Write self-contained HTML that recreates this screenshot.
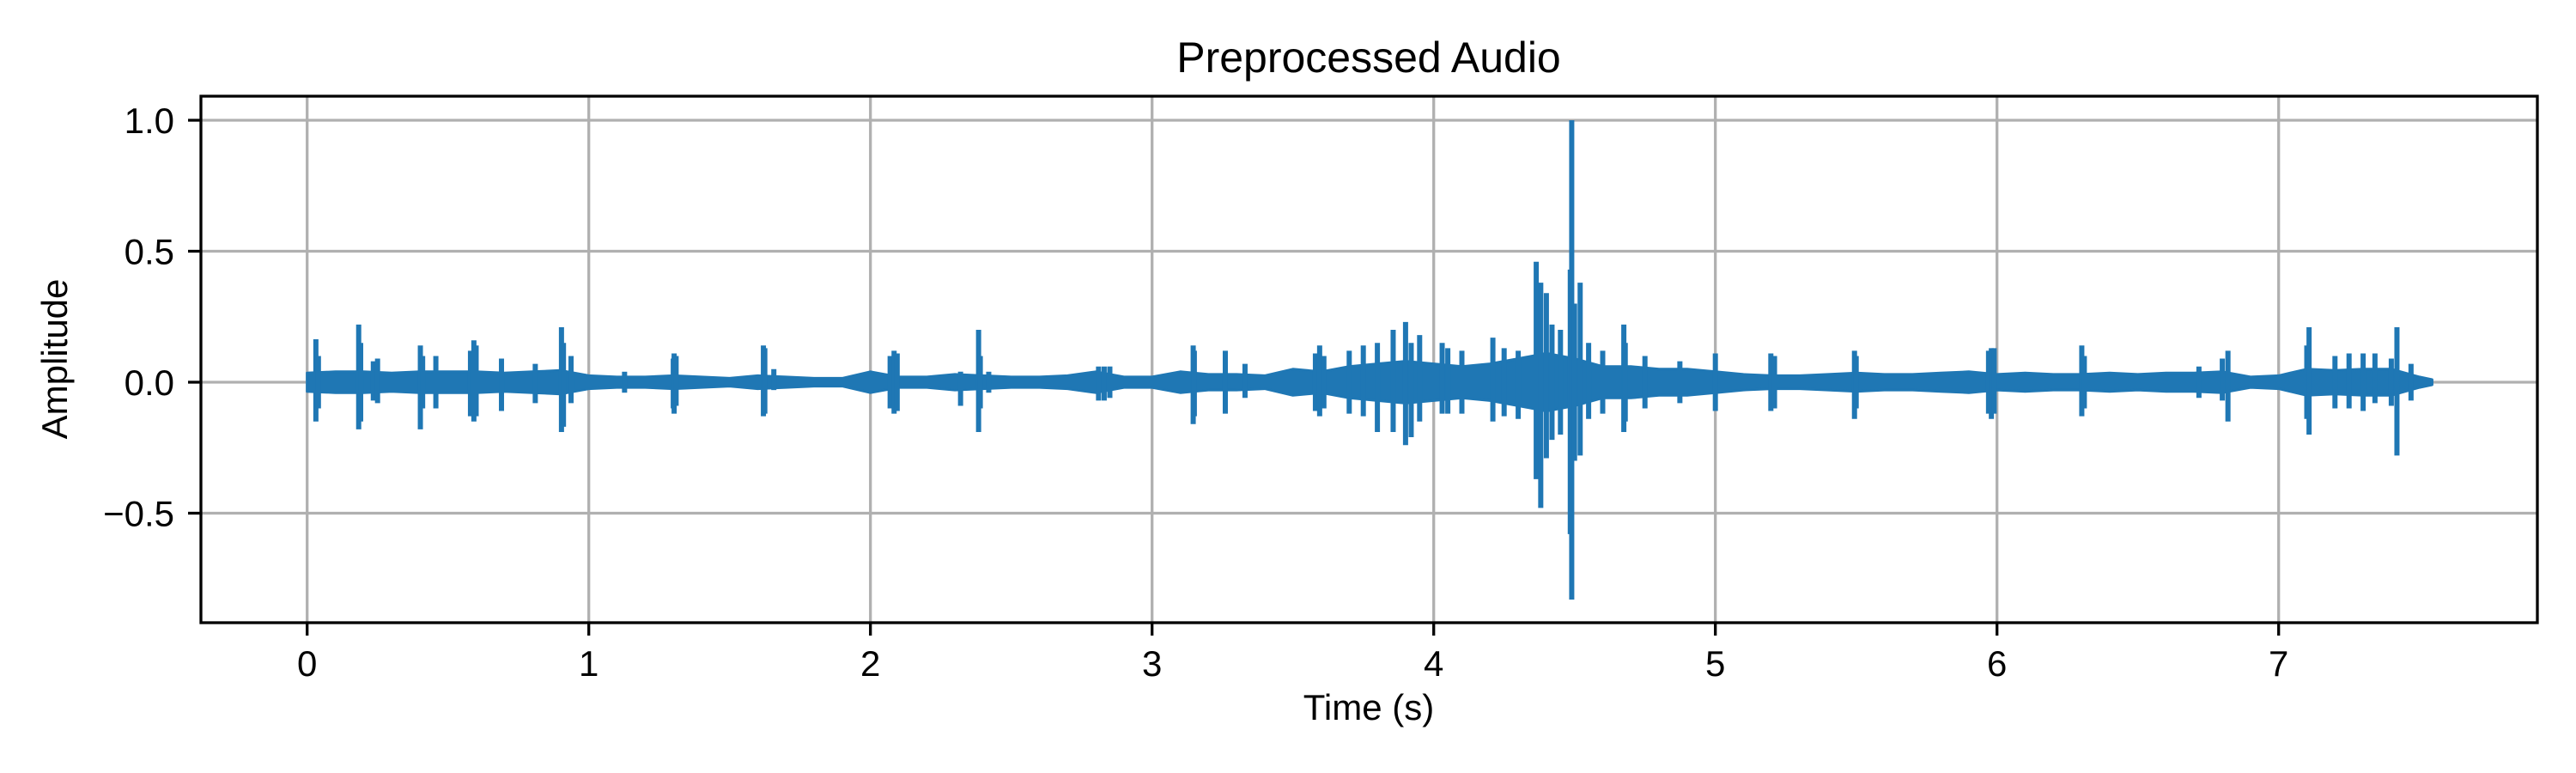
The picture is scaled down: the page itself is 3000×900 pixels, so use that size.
<!DOCTYPE html>
<html><head><meta charset="utf-8"><style>
html,body{margin:0;padding:0;background:#fff;}
svg{display:block;font-family:"Liberation Sans","DejaVu Sans",sans-serif;}
</style></head><body>
<svg id="chart" width="3000" height="900" viewBox="0 0 3000 900" xmlns="http://www.w3.org/2000/svg">
<rect width="3000" height="900" fill="#fff"/>
<g id="grid"></g>
<g id="wave"></g>
<rect x="234" y="112" width="2721" height="613" fill="none" stroke="#000" stroke-width="3.3"/>
<g id="ticks"></g>
<text x="1594" y="84" font-size="50" text-anchor="middle">Preprocessed Audio</text>
<text x="1594" y="838" font-size="42" text-anchor="middle">Time (s)</text>
<text transform="translate(78,418) rotate(-90)" font-size="42" text-anchor="middle">Amplitude</text>
</svg>
<script>
const xTicks = [0,1,2,3,4,5,6,7];
const xTickLabels = ["0","1","2","3","4","5","6","7"];
const yTicks = [-0.5,0,0.5,1.0];
const yTickLabels = ["\u22120.5","0.0","0.5","1.0"];
const envStep = 0.1;
const envAmp = [0.035,0.04,0.04,0.035,0.04,0.04,0.04,0.035,0.04,0.045,
0.025,0.02,0.02,0.025,0.02,0.015,0.025,0.02,0.015,0.015,
0.04,0.02,0.02,0.03,0.025,0.02,0.02,0.025,0.04,0.02,
0.02,0.04,0.03,0.03,0.025,0.05,0.04,0.06,0.07,0.08,
0.07,0.06,0.07,0.09,0.11,0.09,0.06,0.06,0.05,0.05,
0.04,0.03,0.025,0.025,0.03,0.035,0.03,0.03,0.035,0.04,
0.03,0.035,0.03,0.03,0.035,0.03,0.035,0.035,0.04,0.02,
0.025,0.05,0.045,0.05,0.05,0.02];
const spikeT = [0.031,0.04,0.183,0.19,0.235,0.25,0.402,0.41,0.457,0.58,0.592,0.60,0.69,0.81,0.903,0.91,0.937,1.127,1.30,1.303,1.31,1.62,1.625,1.657,
2.07,2.084,2.095,2.32,2.384,2.39,2.42,2.81,2.83,2.85,3.146,3.15,3.26,3.33,3.58,3.595,3.61,3.70,3.75,3.80,3.856,3.90,3.92,3.95,4.03,4.05,4.10,4.21,4.25,4.30,4.364,4.38,4.40,4.42,4.45,4.485,4.49,4.50,4.52,4.55,4.60,4.675,4.68,4.75,4.874,5.0,5.197,5.21,
5.494,5.50,5.97,5.98,5.99,6.301,6.31,6.717,6.80,6.82,7.10,7.108,7.20,7.25,7.30,7.342,7.40,7.42,7.47];
const spikeMax = [0.164,0.10,0.22,0.15,0.08,0.09,0.14,0.10,0.10,0.12,0.16,0.14,0.09,0.07,0.21,0.15,0.10,0.04,0.09,0.11,0.10,0.14,0.13,0.05,
0.10,0.12,0.11,0.04,0.20,0.10,0.04,0.06,0.06,0.06,0.14,0.12,0.12,0.07,0.11,0.14,0.10,0.12,0.14,0.15,0.20,0.23,0.15,0.18,0.15,0.13,0.12,0.17,0.13,0.12,0.46,0.38,0.34,0.22,0.20,0.43,1.0,0.30,0.38,0.15,0.12,0.22,0.15,0.10,0.08,0.11,0.11,0.10,
0.12,0.10,0.12,0.13,0.13,0.14,0.10,0.06,0.09,0.12,0.14,0.21,0.10,0.11,0.11,0.11,0.09,0.21,0.07];
const spikeMin = [-0.15,-0.10,-0.18,-0.15,-0.07,-0.08,-0.18,-0.10,-0.10,-0.13,-0.15,-0.13,-0.11,-0.08,-0.19,-0.17,-0.08,-0.04,-0.10,-0.12,-0.09,-0.13,-0.12,-0.03,
-0.10,-0.12,-0.11,-0.09,-0.19,-0.10,-0.04,-0.07,-0.07,-0.06,-0.16,-0.13,-0.12,-0.06,-0.11,-0.13,-0.10,-0.12,-0.13,-0.19,-0.19,-0.24,-0.21,-0.15,-0.12,-0.12,-0.12,-0.15,-0.13,-0.14,-0.37,-0.48,-0.29,-0.22,-0.20,-0.58,-0.83,-0.30,-0.28,-0.14,-0.12,-0.19,-0.15,-0.10,-0.08,-0.11,-0.11,-0.10,
-0.14,-0.10,-0.12,-0.14,-0.12,-0.13,-0.10,-0.06,-0.07,-0.15,-0.14,-0.20,-0.10,-0.10,-0.11,-0.08,-0.09,-0.28,-0.07];
const tEnd = 7.545;

const X0 = 357.7, XS = 328, Y0 = 445, YS = 305;
function xPos(t){ return X0 + t*XS; }
function yPos(v){ return Y0 - v*YS; }
const NS = "http://www.w3.org/2000/svg";
function mk(tag, attrs, parent){
  const e = document.createElementNS(NS, tag);
  for (const k in attrs) e.setAttribute(k, attrs[k]);
  parent.appendChild(e);
  return e;
}
const gridG = document.getElementById('grid');
const ticksG = document.getElementById('ticks');
const waveG = document.getElementById('wave');

xTicks.forEach((t,i)=>{
  const x = xPos(t);
  const g = mk('line',{x1:x,x2:x,y1:112,y2:725,stroke:'#b0b0b0','stroke-width':3.3},gridG);
  
  
  const tk = mk('line',{x1:x,x2:x,y1:725,y2:740,stroke:'#000','stroke-width':3.3},ticksG);
  
  
  const lb = mk('text',{x:x,y:787,'font-size':42,'text-anchor':'middle'},ticksG);
  lb.textContent = xTickLabels[i];
  
  
});
yTicks.forEach((v,i)=>{
  const y = yPos(v);
  const g = mk('line',{x1:234,x2:2955,y1:y,y2:y,stroke:'#b0b0b0','stroke-width':3.3},gridG);
  
  
  const tk = mk('line',{x1:219,x2:234,y1:y,y2:y,stroke:'#000','stroke-width':3.3},ticksG);
  
  
  const lb = mk('text',{x:203,y:y+15,'font-size':42,'text-anchor':'end'},ticksG);
  lb.textContent = yTickLabels[i];
  
  
});

let envTopPts = [], envBotPts = [];
envAmp.forEach((a,i)=>{
  const t = Math.min(i*envStep, tEnd);
  envTopPts.push(xPos(t).toFixed(1)+','+yPos(a).toFixed(1));
  envBotPts.push(xPos(t).toFixed(1)+','+yPos(-a).toFixed(1));
});
envTopPts.push(xPos(tEnd)+','+yPos(0.01)); envBotPts.push(xPos(tEnd)+','+yPos(-0.01));
const env = mk('polygon',{points: envTopPts.concat(envBotPts.reverse()).join(' '), fill:'#1f77b4', stroke:'#1f77b4','stroke-width':3,'stroke-linejoin':'round'},waveG);



spikeT.forEach((t,i)=>{
  const x = xPos(t);
  const s = mk('line',{x1:x,x2:x,y1:yPos(spikeMax[i]),y2:yPos(spikeMin[i]),stroke:'#1f77b4','stroke-width':6},waveG);
  
  
});
</script>
</body></html>
